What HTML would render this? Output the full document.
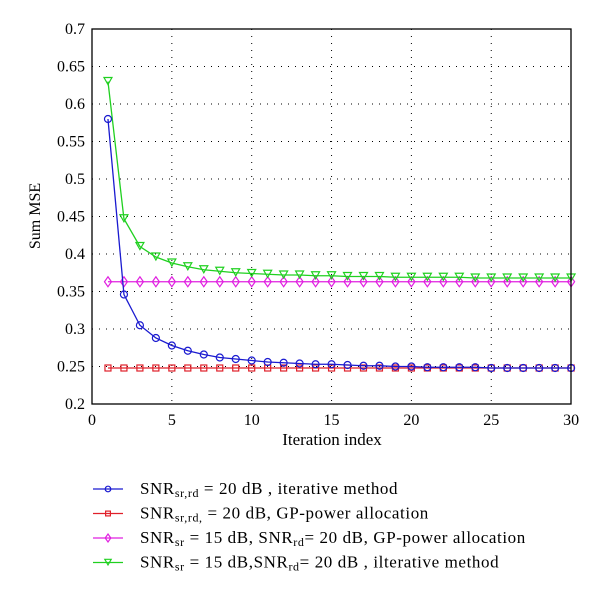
<!DOCTYPE html>
<html><head><meta charset="utf-8"><style>
body{margin:0;background:#fff;}
svg{display:block;font-family:"Liberation Serif",serif;}
</style></head><body>
<svg id="chart" width="600" height="592">
<g id="grid"></g>
<g id="series"></g>
<rect x="92" y="29" width="479" height="375" fill="none" stroke="#000" stroke-width="1.3"/>
<g id="ticks" font-size="16"></g>
<text x="332" y="445" text-anchor="middle" font-size="17">Iteration index</text>
<text transform="translate(40,216) rotate(-90)" text-anchor="middle" font-size="16">Sum MSE</text>
<g id="legend" font-size="17" letter-spacing="0.6"></g>
</svg>
<script>
const xTicks=[0,5,10,15,20,25,30];
const yTicks=[0.2,0.25,0.3,0.35,0.4,0.45,0.5,0.55,0.6,0.65,0.7];
const iterations=[1,2,3,4,5,6,7,8,9,10,11,12,13,14,15,16,17,18,19,20,21,22,23,24,25,26,27,28,29,30];
const blueIter=[0.58,0.346,0.305,0.288,0.278,0.271,0.266,0.262,0.26,0.258,0.256,0.255,0.254,0.253,0.253,0.252,0.251,0.251,0.25,0.25,0.249,0.249,0.249,0.249,0.248,0.248,0.248,0.248,0.248,0.248];
const redGP=[0.248,0.248,0.248,0.248,0.248,0.248,0.248,0.248,0.248,0.248,0.248,0.248,0.248,0.248,0.248,0.248,0.248,0.248,0.248,0.248,0.248,0.248,0.248,0.248,0.248,0.248,0.248,0.248,0.248,0.248];
const magentaGP=[0.363,0.363,0.363,0.363,0.363,0.363,0.363,0.363,0.363,0.363,0.363,0.363,0.363,0.363,0.363,0.363,0.363,0.363,0.363,0.363,0.363,0.363,0.363,0.363,0.363,0.363,0.363,0.363,0.363,0.363];
const greenIter=[0.63,0.447,0.41,0.396,0.388,0.383,0.379,0.377,0.375,0.374,0.373,0.372,0.372,0.371,0.371,0.37,0.37,0.37,0.369,0.369,0.369,0.369,0.369,0.368,0.368,0.368,0.368,0.368,0.368,0.368];
const X=v=>92+v*15.97, Y=v=>404-(v-0.2)*750;
const NS="http://www.w3.org/2000/svg";
function mk(t,a,p){const e=document.createElementNS(NS,t);for(const k in a)e.setAttribute(k,a[k]);p.appendChild(e);return e;}
const grid=document.getElementById('grid'),ticks=document.getElementById('ticks');
xTicks.forEach(t=>{
 if(t>0&&t<30){const l=mk('line',{x1:X(t),x2:X(t),y1:29,y2:404,stroke:'#000','stroke-width':1,'stroke-dasharray':'1,6'},grid);
 }
 const tx=mk('text',{x:X(t),y:425,'text-anchor':'middle'},ticks);tx.textContent=t;
 
});
yTicks.forEach(t=>{
 if(t>0.21&&t<0.69){const l=mk('line',{x1:92,x2:571,y1:Y(t),y2:Y(t),stroke:'#000','stroke-width':1,'stroke-dasharray':'1,6'},grid);
 }
 const tx=mk('text',{x:85,y:Y(t)+5,'text-anchor':'end'},ticks);tx.textContent=String(t);
 
});
function marker(type,x,y,c,p,s){
 s=s||1;let e;
 if(type==='circle')e=mk('circle',{cx:x,cy:y,r:3.5*s,fill:'none',stroke:c,'stroke-width':1.2},p);
 else if(type==='square')e=mk('rect',{x:x-3*s,y:y-3*s,width:6*s,height:6*s,fill:'none',stroke:c,'stroke-width':1.2},p);
 else if(type==='diamond')e=mk('polygon',{points:`${x},${y-5*s} ${x+3.5*s},${y} ${x},${y+5*s} ${x-3.5*s},${y}`,fill:'none',stroke:c,'stroke-width':1.2},p);
 else e=mk('polygon',{points:`${x-4*s},${y-4*s} ${x+4*s},${y-4*s} ${x},${y+3*s}`,fill:'none',stroke:c,'stroke-width':1.2},p);
 
}
const seriesDefs=[
 {vals:redGP,c:'#e0202a',m:'square',name:'series-red-gp',label:['SNR','sr,rd,',' = 20 dB, GP-power allocation']},
 {vals:magentaGP,c:'#e020e0',m:'diamond',name:'series-magenta-gp',label:['SNR','sr',' = 15 dB, SNR','rd','= 20 dB, GP-power allocation']},
 {vals:greenIter,c:'#20d020',m:'tri',name:'series-green-iterative',label:['SNR','sr',' = 15 dB,SNR','rd','= 20 dB , ilterative method']},
 {vals:blueIter,c:'#1a1ad0',m:'circle',name:'series-blue-iterative',label:['SNR','sr,rd',' = 20 dB , iterative method']}
];
const sg=document.getElementById('series');
seriesDefs.forEach(s=>{
 const g=mk('g',{},sg);
 const pl=mk('polyline',{points:iterations.map((it,i)=>X(it)+','+Y(s.vals[i])).join(' '),fill:'none',stroke:s.c,'stroke-width':1.3},g);
 
 iterations.forEach((it,i)=>marker(s.m,X(it),Y(s.vals[i]),s.c,g));
});
const lg=document.getElementById('legend');
const order=[3,0,1,2];
order.forEach((idx,r)=>{
 const s=seriesDefs[idx],y=489+r*24.5;
 const g=mk('g',{},lg);
 mk('line',{x1:93,x2:123,y1:y,y2:y,stroke:s.c,'stroke-width':1.3},g);
 marker(s.m,108,y,s.c,g,0.8);
 const t=mk('text',{x:140,y:y+5},g);
 s.label.forEach((part,k)=>{const ts=mk('tspan',k%2===1?{'font-size':12,dy:3}:(k>0?{dy:-3}:{}),t);ts.textContent=part;});
});
</script>
</body></html>
